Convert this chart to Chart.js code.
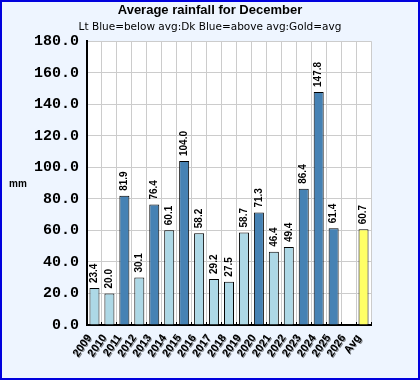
<!DOCTYPE html>
<html>
<head>
<meta charset="utf-8">
<title>Average rainfall for December</title>
<script src="https://cdn.jsdelivr.net/npm/chart.js@4.4.1/dist/chart.umd.min.js"></script>
<style>
    html, body { margin: 0; padding: 0; background: #eef5ff; }
</style>
</head>
<body>
<canvas id="grafico" width="420" height="380"></canvas>
<script>
// Dados do gráfico
const categories = ['2009', '2010', '2011', '2012', '2013', '2014', '2015', '2016', '2017',
    '2018', '2019', '2020', '2021', '2022', '2023', '2024', '2025', '2026', 'Avg'];
const rainfall = [23.4, 20.0, 81.9, 30.1, 76.4, 60.1, 104.0, 58.2, 29.2,
    27.5, 58.7, 71.3, 46.4, 49.4, 86.4, 147.8, 61.4, null, 60.7];
const yTicks = [0, 20, 40, 60, 80, 100, 120, 140, 160, 180];

const average = rainfall[rainfall.length - 1];

// Cor de cada barra: abaixo da média, acima da média, ou a própria média
function corBarra(i) {
    if (i === rainfall.length - 1) {
        return '#ffff66';
    }
    return rainfall[i] < average ? '#add8e6' : '#4682b4';
}

// Fundo do canvas, fundo branco da área do gráfico e a moldura azul
const moldura = {
    id: 'moldura',
    beforeDraw(chart) {
        const ctx = chart.ctx;
        const a = chart.chartArea;
        ctx.save();
        ctx.fillStyle = '#eef5ff';
        ctx.fillRect(0, 0, chart.width, chart.height);
        ctx.fillStyle = '#ffffff';
        ctx.fillRect(a.left, a.top, a.right - a.left, a.bottom - a.top);
        ctx.strokeStyle = '#0000dd';
        ctx.lineWidth = 2;
        ctx.strokeRect(1, 1, chart.width - 2, chart.height - 2);
        ctx.restore();
    },
    afterDraw(chart) {
        // título do eixo y, na horizontal
        const ctx = chart.ctx;
        const a = chart.chartArea;
        ctx.save();
        ctx.font = 'bold 10px "Liberation Sans"';
        ctx.fillStyle = '#000';
        ctx.textAlign = 'center';
        ctx.textBaseline = 'middle';
        ctx.fillText('mm', 18, (a.top + a.bottom) / 2 + 1);
        ctx.restore();
    }
};

// Valores por cima das barras, na vertical
const valores = {
    id: 'valores',
    afterDatasetsDraw(chart) {
        const ctx = chart.ctx;
        const meta = chart.getDatasetMeta(0);
        ctx.save();
        ctx.font = 'bold 10px "Liberation Sans"';
        ctx.fillStyle = '#000';
        meta.data.forEach(function (bar, i) {
            if (rainfall[i] === null) {
                return;
            }
            ctx.save();
            ctx.translate(bar.x, bar.y - 5);
            ctx.rotate(-Math.PI / 2);
            ctx.textAlign = 'left';
            ctx.textBaseline = 'middle';
            ctx.fillText(rainfall[i].toFixed(1), 0, 0);
            ctx.restore();
        });
        ctx.restore();
    }
};

// Sombra cinzenta nas etiquetas do eixo x
const sombra = {
    id: 'sombra',
    afterLayout(chart) {
        const x = chart.scales.x;
        if (x._comSombra) {
            return;
        }
        const original = x.drawLabels;
        x.drawLabels = function (area) {
            const ctx = this.ctx;
            ctx.save();
            ctx.shadowColor = 'rgba(0, 0, 0, 0.45)';
            ctx.shadowOffsetX = 1;
            ctx.shadowOffsetY = 1;
            ctx.shadowBlur = 0;
            original.call(this, area);
            ctx.restore();
        };
        x._comSombra = true;
    }
};

const grelha = function (c) {
    return c.index === categories.length ? 'rgba(0,0,0,0)' : '#cccccc';
};

const ctx = document.getElementById('grafico');
const grafico = new Chart(ctx, {
    type: 'bar',
    data: {
        labels: categories,
        datasets: [{
                label: 'Rainfall',
                data: rainfall,
                backgroundColor: rainfall.map((v, i) => corBarra(i)),
                borderColor: '#000000',
                borderWidth: 1,
                barPercentage: 0.67,
                categoryPercentage: 1
            }]
    },
    options: {
        responsive: false,
        animation: false,
        devicePixelRatio: 1,
        layout: {
            padding: 0
        },
        plugins: {
            legend: {display: false},
            tooltip: {enabled: false},
            title: {
                display: true,
                text: 'Average rainfall for December',
                color: '#000',
                font: {family: 'Liberation Sans', size: 13, weight: 'bold'},
                padding: {top: 3, bottom: 2}
            },
            subtitle: {
                display: true,
                text: 'Lt Blue=below avg:Dk Blue=above avg:Gold=avg',
                color: '#000',
                font: {family: 'DejaVu Sans', size: 10.5},
                padding: {top: 0, bottom: 8}
            }
        },
        scales: {
            x: {
                grid: {
                    color: grelha,
                    offset: true,
                    drawTicks: true,
                    tickLength: -3,
                    tickColor: '#000',
                    tickWidth: 1
                },
                border: {color: '#000', width: 2},
                ticks: {
                    color: '#000',
                    font: {family: 'Liberation Sans', size: 11, weight: 'bold'},
                    minRotation: 55,
                    maxRotation: 55,
                    autoSkip: false,
                    padding: 10,
                    labelOffset: -5
                },
                afterFit(scale) {
                    scale.height = 55;
                }
            },
            y: {
                min: yTicks[0],
                max: yTicks[yTicks.length - 1],
                grid: {color: '#cccccc', drawTicks: false},
                border: {color: '#000', width: 2},
                ticks: {
                    stepSize: yTicks[1] - yTicks[0],
                    color: '#000',
                    font: {family: 'Liberation Mono', size: 15, weight: 'bold'},
                    padding: 8,
                    callback: function (v) {
                        return v.toFixed(1);
                    }
                },
                afterFit(scale) {
                    scale.width = 87;
                }
            },
            // eixo vazio à direita, só para reservar a margem
            margem: {
                position: 'right',
                display: true,
                grid: {display: false, drawTicks: false},
                border: {display: false},
                ticks: {display: false},
                afterFit(scale) {
                    scale.width = 49;
                }
            }
        }
    },
    plugins: [moldura, valores, sombra]
});
</script>
</body>
</html>
